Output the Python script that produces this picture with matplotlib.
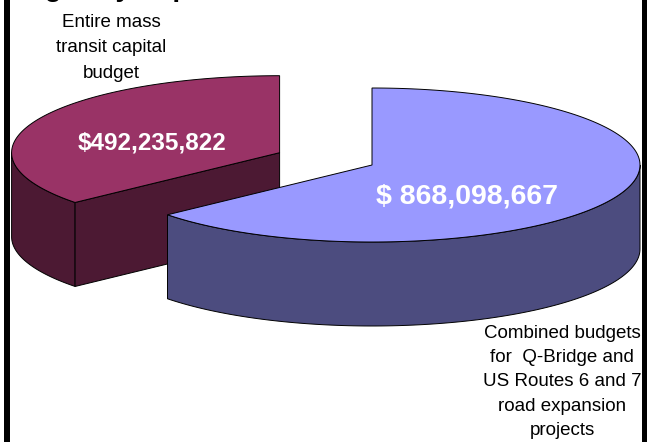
import numpy as np
import matplotlib.pyplot as plt
from matplotlib.patches import Polygon, Rectangle

# slices in Excel order: first one starts at 12 o'clock and runs clockwise
budgets = [868098667, 492235822]
value_labels = ['$ 868,098,667', '$492,235,822']
category_labels = ['Combined budgets\nfor  Q-Bridge and\nUS Routes 6 and 7\nroad expansion\nprojects',
                   'Entire mass\ntransit capital\nbudget']
explode = [0.0, 0.38]

top_colors = ['#9999FF', '#993366']
side_colors = ['#4C4C7F', '#4C1933']

# layout (pixel coords, y down)
cx, cy = 372, 165
rx, ry = 268, 77
depth = 84
value_xy = [(467, 197), (152, 143)]
category_xy = [(562, 382), (111, 48)]
category_spacing = [1.57, 1.68]

plt.rcParams['font.family'] = ['Liberation Sans', 'DejaVu Sans']

fig = plt.figure(figsize=(6.47, 4.42), dpi=100)
ax = fig.add_axes([0, 0, 1, 1])
ax.set_xlim(0, 647)
ax.set_ylim(442, 0)
ax.axis('off')


def ell(t, x0, y0):
    t = np.radians(t)
    return x0 + rx * np.cos(t), y0 - ry * np.sin(t)


fracs = np.array(budgets, dtype=float) / np.sum(budgets)
ends = 90 - 360 * np.cumsum(fracs)
starts = np.concatenate([[90], ends[:-1]])

slices = []
for i in range(len(budgets)):
    t0, t1 = ends[i], starts[i]
    ox, oy = ell((t0 + t1) / 2, 0, 0)
    slices.append((cy + explode[i] * oy, i, t0, t1, cx + explode[i] * ox))

edge = dict(edgecolor='black', linewidth=0.7)

# back slices first
for y0, i, t0, t1, x0 in sorted(slices):
    # outer wall, only where it faces the viewer
    for k in (-1, 0, 1):
        a, b = max(t0, -180 + 360 * k), min(t1, 360 * k)
        if b - a <= 0:
            continue
        t = np.linspace(a, b, 120)
        xs, ys = ell(t, x0, y0)
        pts = np.column_stack([np.r_[xs, xs[::-1]], np.r_[ys, ys[::-1] + depth]])
        ax.add_patch(Polygon(pts, closed=True, facecolor=side_colors[i], **edge))
    # cut faces
    for t, n in ((t0, t0 - 90), (t1, t1 + 90)):
        if np.sin(np.radians(n)) < -1e-6:
            ex, ey = ell(t, x0, y0)
            pts = [(x0, y0), (ex, ey), (ex, ey + depth), (x0, y0 + depth)]
            ax.add_patch(Polygon(pts, closed=True, facecolor=side_colors[i], **edge))
    # top face
    t = np.linspace(t0, t1, 240)
    xs, ys = ell(t, x0, y0)
    pts = np.column_stack([np.r_[x0, xs], np.r_[y0, ys]])
    ax.add_patch(Polygon(pts, closed=True, facecolor=top_colors[i], **edge))

sizes = [20.5, 17.5]
for i in range(len(budgets)):
    ax.text(value_xy[i][0], value_xy[i][1], value_labels[i], color='white',
            fontsize=sizes[i], fontweight='bold', ha='center', va='center')
    ax.text(category_xy[i][0], category_xy[i][1], category_labels[i], color='black',
            fontsize=13.5, ha='center', va='center', multialignment='center',
            linespacing=category_spacing[i])

# title, mostly cut off by the top edge
ax.text(17, -4, 'Highway Expansion', fontsize=20, fontweight='bold',
        ha='left', va='baseline', clip_on=False)

# frame bits at the sides
ax.add_patch(Rectangle((4, 0), 6, 442, facecolor='black', edgecolor='none'))
ax.add_patch(Rectangle((642, 0), 5, 442, facecolor='black', edgecolor='none'))

plt.savefig('out.png', dpi=100)
